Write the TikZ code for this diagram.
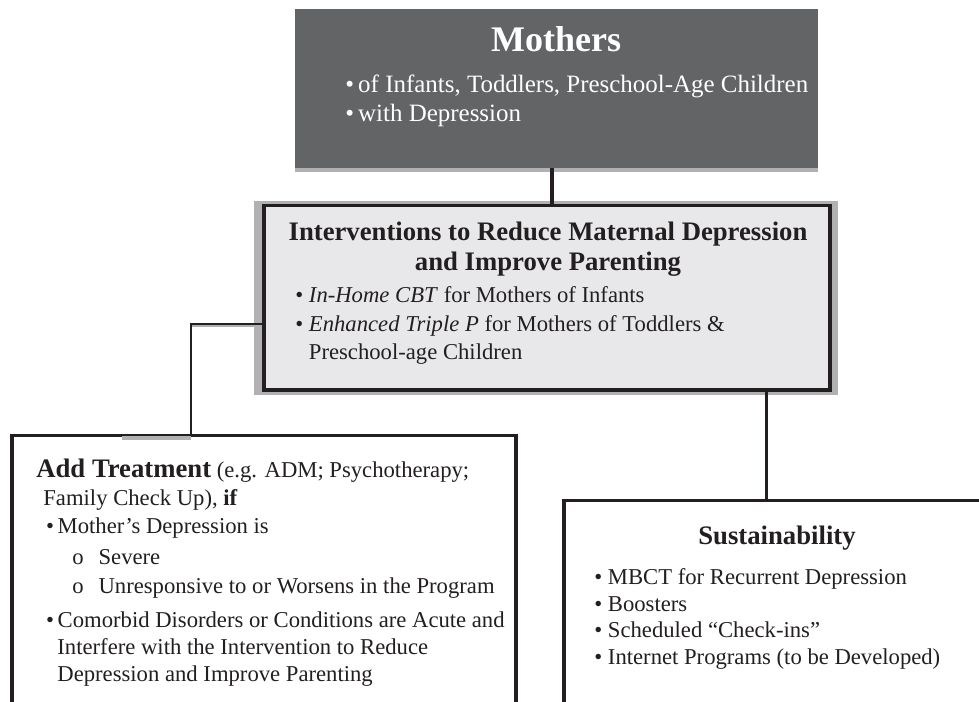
\documentclass[tikz,border=0pt]{standalone}
\usepackage{fontspec}
\setmainfont{Liberation Serif}
\usepackage{xcolor}
\usetikzlibrary{positioning, calc, backgrounds}
\definecolor{darkbox}{HTML}{636466}
\definecolor{lightbox}{HTML}{E8E8EA}
\definecolor{shadowgray}{HTML}{B1B1B3}
\definecolor{inkblack}{HTML}{231F20}
\newcommand{\bodyfont}{\fontsize{12.9}{15.2}\selectfont}
\newcommand{\headfont}{\fontsize{15.2}{17}\selectfont\bfseries}

\begin{document}
\begin{tikzpicture}[
    x=0.02cm, y=-0.02cm,
    box/.style={rectangle, draw=inkblack, line width=2.2pt, inner sep=0pt},
    txt/.style={anchor=north west, align=left, inner sep=0pt, text=inkblack, font=\bodyfont},
    link/.style={line width=#1, inkblack},
    link/.default=1.8pt,
]
    \begin{scope}[on background layer]
        \fill[white] (0,0) rectangle (979,701);
    \end{scope}
    \useasboundingbox (0,0) rectangle (979,701);

    % boxes
    \node[fill=darkbox, inner sep=0pt, minimum width=10.46cm, minimum height=3.18cm] (mothers) at (556.5,88.5) {};
    \fill[shadowgray] (mothers.south west) rectangle ($(mothers.south east)+(0,4)$);

    \node[box, fill=lightbox, minimum width=11.32cm, minimum height=3.69cm] (interv) at (547,297.75) {};
    \begin{scope}[on background layer]
        \fill[shadowgray] ($(interv.north west)+(-8,-3)$) rectangle ($(interv.south east)+(6,3.5)$);
    \end{scope}

    \node[box, fill=white, minimum width=10.08cm, minimum height=6.49cm] (treat) at (264,597.75) {};
    \node[box, fill=white, line width=1.9pt, minimum width=9.12cm, minimum height=5.19cm] (sustain) at (792,630.25) {};

    % connectors
    \draw[link] ($(mothers.south)+(-4.5,0)$) coordinate (m1) -- (m1 |- interv.north);
    \draw[link=2.1pt] ($(interv.south west)!0.885!(interv.south east)$) coordinate (s1) -- (s1 |- sustain.north);
    \draw[shadowgray, line width=1.2pt] ($(interv.west)+(-2,28.5)$) -- ++(-68,0);
    \fill[shadowgray] ($(treat.north west)!0.22!(treat.north east)+(0,2)$) rectangle ($(treat.north west)!0.357!(treat.north east)+(0,6)$);
    \draw[link=1.2pt] ($(interv.west)+(0,26)$) -| ($(treat.north west)!0.357!(treat.north east)$);

    % text
    \node[text=white, font=\fontsize{20.5}{24}\selectfont\bfseries] (mtitle) at (556,39) {Mothers};
    \node[txt, text=white, font=\fontsize{14.2}{16}\selectfont] (mlist) at (345,75) {\textbullet\,of Infants, Toddlers, Preschool-Age Children\\
        \textbullet\,with Depression};

    \node[anchor=north, align=center, inner sep=0pt, text=inkblack, font=\headfont] (ititle) at (548,222)
        {Interventions to Reduce Maternal Depression\\and Improve Parenting};
    \node[txt, font=\fontsize{12.9}{16.4}\selectfont] (ilist) at (295,286) {\textbullet\ \textit{In-Home CBT} for Mothers of Infants\\
        \textbullet\ \textit{Enhanced Triple P} for Mothers of Toddlers \&\\
        \hphantom{\textbullet\ }Preschool-age Children};

    \node[txt, font=\fontsize{12.9}{15.4}\selectfont] (tlist) at (36,459) {{\headfont Add Treatment} (e.g. ADM; Psychotherapy;\\[0.5pt]
        \hspace*{4pt}Family Check Up), \textbf{if}\\[0.5pt]
        \hspace*{5.5pt}\textbullet\,Mother’s Depression is\\[2.3pt]
        \hspace*{20.5pt}o\hspace{8.5pt}Severe\\[1.1pt]
        \hspace*{20.5pt}o\hspace{8.5pt}Unresponsive to or Worsens in the Program\\[4pt]
        \hspace*{5.5pt}\textbullet\,Comorbid Disorders or Conditions are Acute and\\[-0.5pt]
        \hspace*{12pt}Interfere with the Intervention to Reduce\\
        \hspace*{12pt}Depression and Improve Parenting};

    \node[text=inkblack, inner sep=0pt, font=\headfont] (stitle) at (777,538) {Sustainability};
    \node[txt] (slist) at (594,568) {\textbullet\ MBCT for Recurrent Depression\\
        \textbullet\ Boosters\\
        \textbullet\ Scheduled “Check-ins”\\
        \textbullet\ Internet Programs (to be Developed)};
\end{tikzpicture}
\end{document}
